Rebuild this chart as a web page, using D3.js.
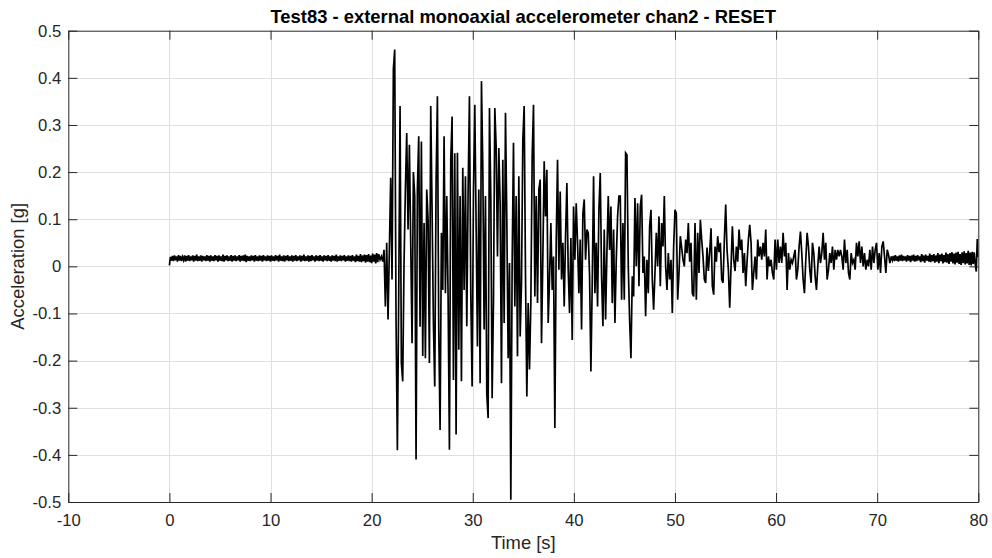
<!DOCTYPE html>
<html>
<head>
<meta charset="utf-8">
<script src="https://cdn.jsdelivr.net/npm/d3@7"></script>
<style>
  html, body { margin: 0; padding: 0; background: #fff; }
  svg { display: block; font-family: "Liberation Sans", Arial, sans-serif; }
</style>
</head>
<body>
<div id="chart"></div>
<script>
// chart text
const TITLE = "Test83 - external monoaxial accelerometer chan2 - RESET"
const X_LABEL = "Time [s]"
const Y_LABEL = "Acceleration [g]"

// axis ticks
const xTicks = [-10, 0, 10, 20, 30, 40, 50, 60, 70, 80]
const yTicks = [-0.5, -0.4, -0.3, -0.2, -0.1, 0, 0.1, 0.2, 0.3, 0.4, 0.5]

// pre-event noise, one value every 0.1 s from t = 0
const quietStart = 0, quietStep = 0.1
const quietVals = [
  0.002, 0.020, 0.012, 0.022, 0.011, 0.023, 0.013, 0.021, 0.010, 0.024,
  0.012, 0.022, 0.011, 0.020, 0.013, 0.023, 0.010, 0.022, 0.012, 0.024,
  0.011, 0.021, 0.013, 0.023, 0.010, 0.022, 0.012, 0.025, 0.011, 0.021,
  0.012, 0.023, 0.010, 0.022, 0.013, 0.021, 0.011, 0.024, 0.012, 0.022,
  0.010, 0.023, 0.012, 0.021, 0.011, 0.024, 0.013, 0.022, 0.010, 0.023,
  0.012, 0.021, 0.011, 0.025, 0.010, 0.022, 0.013, 0.023, 0.011, 0.021,
  0.012, 0.024, 0.010, 0.022, 0.012, 0.023, 0.011, 0.021, 0.013, 0.024,
  0.010, 0.022, 0.012, 0.023, 0.011, 0.025, 0.009, 0.022, 0.012, 0.021,
  0.011, 0.023, 0.013, 0.022, 0.010, 0.024, 0.012, 0.021, 0.011, 0.023,
  0.012, 0.022, 0.010, 0.024, 0.013, 0.021, 0.011, 0.023, 0.012, 0.022,
  0.010, 0.023, 0.012, 0.021, 0.011, 0.024, 0.013, 0.022, 0.010, 0.025,
  0.012, 0.021, 0.011, 0.023, 0.010, 0.022, 0.013, 0.024, 0.011, 0.021,
  0.012, 0.023, 0.010, 0.022, 0.012, 0.024, 0.011, 0.021, 0.013, 0.023,
  0.010, 0.022, 0.012, 0.025, 0.011, 0.021, 0.012, 0.023, 0.010, 0.022,
  0.011, 0.024, 0.013, 0.021, 0.010, 0.023, 0.012, 0.022, 0.011, 0.024,
  0.012, 0.021, 0.010, 0.023, 0.013, 0.022, 0.011, 0.024, 0.012, 0.021,
  0.010, 0.023, 0.012, 0.022, 0.011, 0.025, 0.010, 0.021, 0.012, 0.023,
  0.011, 0.022, 0.013, 0.024, 0.010, 0.021, 0.012, 0.023, 0.011, 0.022,
  0.010, 0.024, 0.012, 0.021, 0.009, 0.025, 0.011, 0.022, 0.010, 0.026,
  0.009, 0.023, 0.011, 0.025, 0.008, 0.024, 0.010, 0.026, 0.009, 0.023,
  0.007, 0.027, 0.010, 0.025, 0.006, 0.028, 0.009, 0.026
]

// strong motion, read peak to peak
const burstStart = 20.83, burstStep = 0.132
const burstVals = [
  // 20.8 - 26.7 s
  0.014, 0.021, 0.010, 0.035, -0.085, 0.050, -0.113, 0.035, 0.188, -0.028,
  0.418, 0.460, -0.113, -0.390, -0.064, 0.340, -0.205, -0.244, 0.007, 0.163,
  0.283, 0.078, 0.258, 0.050, -0.163, 0.200, 0.150, -0.410, 0.163, 0.276,
  -0.128, 0.265, -0.190, 0.092, -0.195, 0.163, 0.100, -0.205, 0.340, 0.120,
  -0.120, -0.255, 0.177, 0.361, -0.134,
  // 26.7 - 32.6 s
  -0.347, 0.071, -0.050, 0.276, -0.057, 0.149, -0.064, -0.389, 0.226, 0.318,
  -0.241, 0.240, -0.357, 0.241, -0.177, 0.149, -0.244, 0.209, -0.050, 0.191,
  -0.127, 0.159, 0.361, -0.057, -0.255, 0.156, 0.343, 0.085, -0.170, 0.163,
  -0.248, 0.393, 0.212, -0.134, 0.149, -0.272, -0.322, 0.336, 0.149, -0.280,
  -0.074, 0.336, 0.255, 0.021, 0.251,
  // 32.6 - 38.6 s
  0.134, -0.248, 0.226, -0.120, 0.326, 0.100, -0.195, 0.007, -0.495, 0.007,
  0.262, -0.085, 0.149, -0.191, 0.191, -0.149, -0.035, 0.269, 0.340, -0.021,
  -0.276, -0.078, -0.219, -0.078, 0.234, 0.343, -0.064, 0.149, -0.078, 0.163,
  0.184, -0.163, 0.021, 0.223, 0.106, 0.205, -0.120, -0.028, 0.092, -0.050,
  0.021, -0.343, 0.050, 0.226, -0.007,
  // 38.6 - 44.5 s
  0.159, -0.028, 0.050, -0.085, 0.064, 0.177, -0.007, -0.099, 0.060, -0.156,
  0.127, 0.014, 0.134, 0.050, -0.057, 0.057, -0.134, 0.113, 0.142, 0.014,
  0.078, 0.071, -0.020, -0.223, -0.035, 0.191, -0.057, 0.050, -0.085, 0.120,
  0.198, -0.021, -0.127, 0.078, -0.113, 0.030, 0.149, 0.035, 0.127, -0.078,
  0.078, -0.120, 0.014, 0.106, 0.149,
  // 44.5 - 51.4 s
  0.149, -0.071, 0.092, -0.071, 0.241, 0.237, 0.000, -0.113, -0.195, -0.021,
  -0.064, 0.145, 0.000, 0.134, -0.042, 0.127, 0.152, -0.014, 0.021, -0.106,
  0.014, -0.057, 0.085, 0.120, -0.028, -0.092, -0.014, 0.071, 0.000, 0.106,
  -0.042, 0.092, 0.042, 0.149, 0.000, -0.050, 0.028, -0.028, 0.014, -0.099,
  0.042, 0.120, 0.113, -0.071, -0.014, 0.064, 0.040, 0.014, 0.000, 0.057,
  0.028, 0.092, 0.010,
  // 51.4 - 58.3 s
  0.050, -0.057, -0.064, 0.092, -0.071, 0.071, -0.014, 0.099, 0.057, 0.021,
  -0.028, -0.035, 0.040, -0.010, 0.030, 0.081, -0.042, -0.060, 0.042, 0.010,
  0.064, 0.030, 0.050, -0.028, -0.035, 0.057, 0.131, 0.035, -0.007, -0.088,
  0.000, 0.085, 0.014, -0.010, 0.042, 0.010, 0.078, 0.035, 0.057, -0.014,
  0.028, -0.042, 0.010, 0.057, 0.088, 0.050, -0.050, -0.014, 0.021, -0.028,
  0.057, 0.021, 0.042,
  // 58.3 - 66.2 s
  0.014, 0.050, 0.021, 0.078, -0.028, 0.021, 0.000, 0.014, -0.014, -0.028,
  0.057, -0.007, 0.057, 0.007, 0.042, 0.007, 0.071, 0.021, 0.050, -0.050,
  0.028, -0.007, 0.014, 0.007, 0.021, 0.035, -0.028, -0.007, 0.042, 0.074,
  0.028, -0.028, -0.057, 0.014, 0.071, 0.042, -0.007, -0.035, 0.050, 0.028,
  -0.021, -0.050, 0.000, 0.042, 0.007, 0.028, 0.071, 0.014, 0.050, -0.028,
  -0.007, 0.028, 0.007, 0.042, -0.007, 0.035, 0.014, 0.035, 0.021, 0.035,
  // 66.2 - 71.4 s
  0.021, -0.007, 0.057, 0.007, 0.035, -0.014, -0.028, 0.028, 0.007, 0.014,
  -0.007, 0.050, 0.021, 0.053, 0.007, 0.042, 0.000, 0.028, -0.007, 0.014,
  0.000, 0.035, -0.007, 0.042, 0.007, 0.035, 0.050, -0.007, 0.028, -0.014,
  0.042, 0.053, 0.021, -0.014, 0.035, 0.025, 0.007, 0.021
]

// post-event noise, every 0.1 s
const tailStart = 71.5, tailStep = 0.1
const tailVals = [
  0.013, 0.022, 0.011, 0.024, 0.012, 0.021, 0.010, 0.023, 0.012, 0.025,
  0.011, 0.022, 0.013, 0.021, 0.010, 0.024, 0.012, 0.022, 0.009, 0.023,
  0.012, 0.025, 0.010, 0.022, 0.011, 0.024, 0.013, 0.021, 0.009, 0.026,
  0.011, 0.023, 0.008, 0.025, 0.012, 0.022, 0.010, 0.027, 0.009, 0.024,
  0.011, 0.026, 0.008, 0.023, 0.010, 0.028, 0.007, 0.025, 0.011, 0.027,
  0.006, 0.024, 0.009, 0.029, 0.008, 0.026, 0.005, 0.028, 0.010, 0.030,
  0.006, 0.027, 0.004, 0.029, 0.008, 0.031, 0.005, 0.026, 0.003, 0.030,
  0.007, 0.032, 0.004, 0.028, 0.006, 0.033, 0.003, 0.029, 0.002, 0.031,
  0.005, 0.030, 0.004, -0.011, 0.058, 0.020
]

const W = 992, H = 558
const MARGIN = {top: 30.7, right: 13.7, bottom: 56, left: 68.3}
const AXIS_COLOR = "#262626"
const GRID_COLOR = "#dfdfdf"
const TICK = 9

const svg = d3.select("#chart").append("svg")
    .attr("width", W)
    .attr("height", H)

const x = d3.scaleLinear()
    .domain([-10, 80])
    .range([MARGIN.left, W - MARGIN.right])

const y = d3.scaleLinear()
    .domain([-0.5, 0.5])
    .range([H - MARGIN.bottom, MARGIN.top])

// build the sample list out of the three pieces
const samples = []
quietVals.forEach((v, i) => samples.push({t: quietStart + i * quietStep, v: v}))
burstVals.forEach((v, i) => samples.push({t: burstStart + i * burstStep, v: v}))
tailVals.forEach((v, i) => samples.push({t: tailStart + i * tailStep, v: v}))

// grid
const grid = svg.append("g").attr("stroke", GRID_COLOR).attr("stroke-width", 1)
grid.selectAll("line.gx")
    .data(xTicks.slice(1, -1))
    .join("line")
        .attr("class", "gx")
        .attr("x1", d => Math.round(x(d)) + 0.5)
        .attr("x2", d => Math.round(x(d)) + 0.5)
        .attr("y1", y(0.5))
        .attr("y2", y(-0.5))
grid.selectAll("line.gy")
    .data(yTicks.slice(1, -1))
    .join("line")
        .attr("class", "gy")
        .attr("x1", x(-10))
        .attr("x2", x(80))
        .attr("y1", d => Math.round(y(d)) + 0.5)
        .attr("y2", d => Math.round(y(d)) + 0.5)

// signal
svg.append("defs").append("clipPath")
    .attr("id", "plot-clip")
    .append("rect")
        .attr("x", x(-10))
        .attr("y", y(0.5))
        .attr("width", x(80) - x(-10))
        .attr("height", y(-0.5) - y(0.5))

const line = d3.line()
    .x(d => x(d.t))
    .y(d => y(d.v))

svg.append("path")
    .datum(samples)
    .attr("clip-path", "url(#plot-clip)")
    .attr("fill", "none")
    .attr("stroke", "#000")
    .attr("stroke-width", 1.7)
    .attr("stroke-linejoin", "miter")
    .attr("d", line)

// axes, ticks pointing inward on all four sides
const styleAxis = g => {
    g.select(".domain").attr("stroke", AXIS_COLOR)
    g.selectAll(".tick line").attr("stroke", AXIS_COLOR)
    g.selectAll(".tick text")
        .attr("fill", AXIS_COLOR)
        .style("font-size", "16.7px")
}

svg.append("g")
    .attr("transform", `translate(0, ${y(-0.5)})`)
    .call(d3.axisBottom(x).tickValues(xTicks).tickSizeInner(-TICK).tickSizeOuter(0).tickPadding(12)
        .tickFormat(d => String(d)))
    .call(styleAxis)

svg.append("g")
    .attr("transform", `translate(0, ${y(0.5)})`)
    .call(d3.axisTop(x).tickValues(xTicks).tickSizeInner(-TICK).tickSizeOuter(0).tickFormat(""))
    .call(styleAxis)

svg.append("g")
    .attr("transform", `translate(${x(-10)}, 0)`)
    .call(d3.axisLeft(y).tickValues(yTicks).tickSizeInner(-TICK).tickSizeOuter(0).tickPadding(7)
        .tickFormat(d => d === 0 ? "0" : d.toFixed(1)))
    .call(styleAxis)

svg.append("g")
    .attr("transform", `translate(${x(80)}, 0)`)
    .call(d3.axisRight(y).tickValues(yTicks).tickSizeInner(-TICK).tickSizeOuter(0).tickFormat(""))
    .call(styleAxis)

// labels
const midX = (x(-10) + x(80)) / 2
const midY = (y(0.5) + y(-0.5)) / 2

svg.append("text")
    .attr("x", midX)
    .attr("y", 23)
    .attr("text-anchor", "middle")
    .style("font-size", "18.4px")
    .style("font-weight", "bold")
    .attr("fill", "#000")
    .text(TITLE)

svg.append("text")
    .attr("x", midX)
    .attr("y", 549)
    .attr("text-anchor", "middle")
    .style("font-size", "18.4px")
    .attr("fill", AXIS_COLOR)
    .text(X_LABEL)

svg.append("text")
    .attr("transform", `translate(24, ${midY}) rotate(-90)`)
    .attr("text-anchor", "middle")
    .style("font-size", "18.4px")
    .attr("fill", AXIS_COLOR)
    .text(Y_LABEL)
</script>
</body>
</html>
